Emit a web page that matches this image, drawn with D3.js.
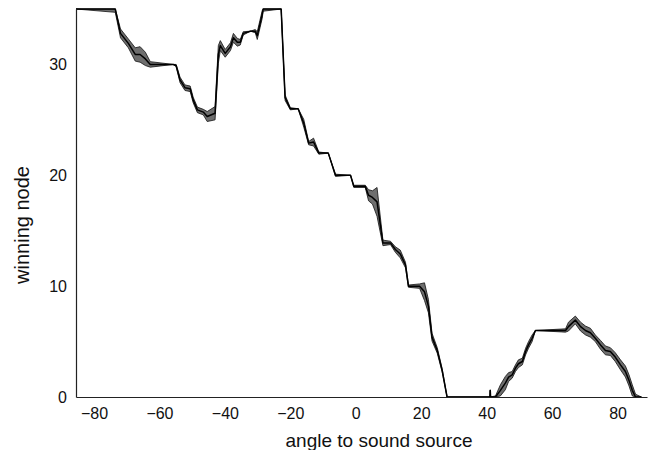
<!DOCTYPE html>
<html>
<meta charset="utf-8">
<head>
<script src="https://cdnjs.cloudflare.com/ajax/libs/d3/7.8.5/d3.min.js"></script>
</head>
<style>
body { margin: 0; background: #fff; font-family: "Liberation Sans", Arial, sans-serif; }
.axis .domain { stroke: #222; stroke-width: 1.2px; }
.axis .tick line { display: none; }
.axis .tick text { font-size: 16px; fill: #111; font-family: "Liberation Sans", Arial, sans-serif; }
.title { font-size: 19px; fill: #111; }
</style>
<body>
<svg id="canvas"></svg>
<script>
// angle (deg) -> mean winning node and its spread (band half-width)
var angles = [-85.5, -73.5, -71.9, -69.5, -67.4, -65.9, -64.3, -62.8, -55.8, -54.9,
  -53.7, -52.2, -50.6, -49.7, -48.4, -46.6, -45.4, -43.0, -42.0, -41.4,
  -39.9, -38.3, -37.4, -36.2, -35.3, -34.4, -32.2, -30.7, -30.1, -28.6,
  -28.3, -22.8, -21.6, -20.0, -17.6, -15.9, -14.4, -12.9, -11.3, -8.4,
  -6.2, -1.6, -0.6, 2.9, 3.9, 5.1, 6.5, 8.3, 10.6, 12.1,
  13.6, 15.2, 16.1, 19.5, 21.0, 22.2, 23.3, 24.9, 26.4, 27.9,
  41.0, 41.1, 41.2, 42.7, 44.2, 45.7, 46.7, 47.8, 48.8, 49.7,
  50.9, 51.9, 52.8, 53.9, 54.9, 64.1, 65.0, 67.1, 68.7, 70.2,
  71.7, 73.2, 74.8, 76.3, 77.8, 79.3, 80.9, 82.4, 83.5, 84.5,
  85.5, 87.3];
var meanNode = [35, 35, 32.8, 31.9, 30.9, 30.9, 30.5, 30.0, 30.0, 29.9,
  28.6, 27.9, 27.8, 26.8, 25.9, 25.7, 25.3, 25.6, 30.9, 31.7,
  31.0, 31.6, 32.4, 32.0, 32.0, 32.8, 33.0, 33.0, 32.6, 34.5,
  35, 35, 27.0, 26.0, 26.0, 24.7, 22.9, 23.0, 22.0, 22.0,
  20.0, 20.0, 19.0, 19.0, 18.2, 18.0, 17.6, 13.9, 13.9, 13.3,
  12.9, 11.9, 10.0, 10.0, 9.5, 8.2, 5.4, 4.2, 2.4, 0,
  0, 0.6, 0, 0, 0.6, 1.25, 1.8, 2.0, 2.6, 3.0,
  3.2, 4.1, 4.7, 5.3, 6.0, 6.0, 6.35, 6.95, 6.35, 6.0,
  5.8, 5.3, 4.7, 4.2, 4.1, 3.6, 2.9, 2.3, 1.5, 0.6,
  0, 0];
var spreadNode = [0, 0.3, 0.4, 0.4, 0.6, 0.7, 0.6, 0.25, 0, 0.1,
  0.25, 0.25, 0.25, 0.25, 0.25, 0.25, 0.45, 0.6, 0.8, 0.45,
  0.35, 0.35, 0.4, 0.35, 0.25, 0.15, 0, 0.15, 0.35, 0.35,
  0.2, 0, 0.25, 0.1, 0, 0.35, 0.15, 0.35, 0.1, 0,
  0.1, 0, 0.1, 0.1, 0.5, 0.6, 1.3, 0.25, 0.15, 0.25,
  0.35, 0.25, 0.1, 0.2, 0.8, 0.6, 0.35, 0.25, 0.15, 0,
  0, 0, 0, 0.1, 0.5, 0.6, 0.4, 0.3, 0.3, 0.35,
  0.3, 0.3, 0.3, 0.3, 0, 0.15, 0.4, 0.35, 0.4, 0.4,
  0.4, 0.3, 0.4, 0.4, 0.35, 0.4, 0.45, 0.5, 0.5, 0.5,
  0.25, 0];
var xTicks = [-80, -60, -40, -20, 0, 20, 40, 60, 80];
var yTicks = [0, 10, 20, 30];

const width = 649, height = 450;
const margin = {top: 9, right: 2, bottom: 53, left: 76};

const svg = d3.select('#canvas')
    .attr('width', width)
    .attr('height', height);

const x = d3.scaleLinear()
    .domain([-85.5, 89])
    .range([margin.left, width - margin.right]);
const y = d3.scaleLinear()
    .domain([0, 35])
    .range([height - margin.bottom, margin.top]);

var data = angles.map((a, i) => ({a: a, m: meanNode[i], s: spreadNode[i]}));

svg.append('clipPath').attr('id', 'plotclip')
  .append('rect')
    .attr('x', margin.left)
    .attr('y', margin.top - 1)
    .attr('width', width - margin.left - margin.right)
    .attr('height', height - margin.top - margin.bottom + 1);

var plot = svg.append('g').attr('clip-path', 'url(#plotclip)');

// spread band
plot.append('path')
    .datum(data)
    .attr('fill', '#6e6e6e')
    .attr('stroke', '#111')
    .attr('stroke-width', 0.8)
    .attr('stroke-linejoin', 'round')
    .attr('d', d3.area()
        .x(d => x(d.a))
        .y0(d => y(Math.max(0, d.m - d.s)))
        .y1(d => y(Math.min(35, d.m + d.s))));

// mean line
plot.append('path')
    .datum(data)
    .attr('fill', 'none')
    .attr('stroke', '#000')
    .attr('stroke-width', 1.5)
    .attr('stroke-linejoin', 'round')
    .attr('d', d3.line().x(d => x(d.a)).y(d => y(d.m)));

// axes, no tick marks
svg.append('g')
    .classed('axis', true)
    .attr('transform', `translate(0,${height - margin.bottom})`)
    .call(d3.axisBottom(x).tickValues(xTicks).tickSize(0).tickPadding(11).tickSizeOuter(0));

svg.append('g')
    .classed('axis', true)
    .attr('transform', `translate(${margin.left},0)`)
    .call(d3.axisLeft(y).tickValues(yTicks).tickSize(0).tickPadding(9).tickSizeOuter(0));

svg.append('text')
    .classed('title', true)
    .attr('x', 379)
    .attr('y', 447)
    .attr('text-anchor', 'middle')
    .text('angle to sound source');

svg.append('text')
    .classed('title', true)
    .style('font-size', '20px')
    .attr('transform', 'translate(29,225) rotate(-90)')
    .attr('text-anchor', 'middle')
    .text('winning node');
</script>
</body>
</html>
